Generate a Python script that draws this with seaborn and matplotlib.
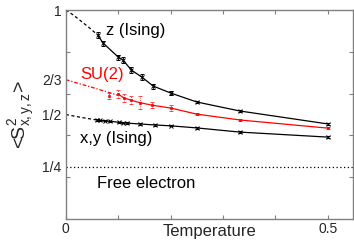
import numpy as np
import pandas as pd
import matplotlib
matplotlib.use('Agg')
import matplotlib.pyplot as plt
import seaborn as sns

# z (Ising)
z_T = [0.061, 0.071, 0.1, 0.109, 0.125, 0.145, 0.167, 0.2, 0.25, 0.332, 0.5]
z_S = [0.88, 0.842, 0.775, 0.761, 0.713, 0.679, 0.636, 0.603, 0.56, 0.517, 0.455]
z_err = [0.015, 0.012, 0.012, 0.015, 0.015, 0.015, 0.012, 0.008, 0.006, 0.005, 0.004]
z_fit_T = [0.0, 0.015, 0.03, 0.045, 0.061]
z_fit_S = [1.0, 0.975, 0.945, 0.915, 0.88]

# SU(2)
su_T = [0.082, 0.1, 0.111, 0.124, 0.141, 0.164, 0.2, 0.25, 0.332, 0.5]
su_S = [0.589, 0.598, 0.579, 0.569, 0.557, 0.545, 0.531, 0.502, 0.474, 0.435]
su_err = [0.015, 0.02, 0.02, 0.02, 0.03, 0.015, 0.015, 0.006, 0.006, 0.005]
su_fit_T = [0.0, 0.05, 0.1]
su_fit_S = [2 / 3, 0.63, 0.592]

# x,y (Ising)
xy_T = [0.059, 0.065, 0.074, 0.084, 0.101, 0.109, 0.116, 0.141, 0.17, 0.2, 0.25, 0.332, 0.5]
xy_S = [0.474, 0.472, 0.47, 0.468, 0.463, 0.461, 0.459, 0.455, 0.45, 0.446, 0.436, 0.416, 0.392]
xy_fit_T = [0.0, 0.03, 0.059]
xy_fit_S = [0.5, 0.486, 0.474]

free_S = 0.25

ytick_vals = [0.25, 0.5, 2 / 3, 1.0]
ytick_labels = ['1/4', '1/2', '2/3', '1']

sns.set_style("ticks")
plt.rcParams['font.family'] = ['Liberation Sans', 'DejaVu Sans']
plt.rcParams['mathtext.fontset'] = 'custom'
plt.rcParams['mathtext.rm'] = 'Liberation Sans'
plt.rcParams['mathtext.it'] = 'Liberation Sans'

fig = plt.figure(figsize=(3.54, 2.45), dpi=100)
ax = fig.add_axes([0.186, 0.106, 0.811, 0.853])

lw = 0.9
# extrapolations
sns.lineplot(x=z_fit_T, y=z_fit_S, ax=ax, color='black', lw=lw, linestyle=(0, (2.5, 2)), sort=False)
sns.lineplot(x=su_fit_T, y=su_fit_S, ax=ax, color='red', lw=lw, linestyle=(0, (3, 1.5, 1, 1.5)), sort=False)
sns.lineplot(x=xy_fit_T, y=xy_fit_S, ax=ax, color='black', lw=lw, linestyle=(0, (2.5, 2)), sort=False)

# data lines
sns.lineplot(x=z_T, y=z_S, ax=ax, color='black', lw=lw, sort=False)
sns.lineplot(x=su_T[1:], y=su_S[1:], ax=ax, color='red', lw=lw, sort=False)
sns.lineplot(x=xy_T, y=xy_S, ax=ax, color='black', lw=lw, sort=False)

ax.errorbar(z_T, z_S, yerr=z_err, fmt='x', color='black', ms=2.5, mew=0.7,
            elinewidth=0.6, capsize=1.5, capthick=0.6)
eb = ax.errorbar(su_T, su_S, yerr=su_err, fmt='s', color='red', ms=2, mew=0.5,
                 elinewidth=0.6, capsize=1.5, capthick=0.6)
eb[-1][0].set_linestyle(':')
ax.errorbar(xy_T, xy_S, yerr=[0.003] * len(xy_T), fmt='x', color='black', ms=2.5, mew=0.7,
            elinewidth=0.6, capsize=1.5, capthick=0.6)

ax.axhline(free_S, color='black', lw=0.9, linestyle=(0, (1, 2)))

ax.text(0.077, 0.9, 'z (Ising)', fontsize=12, color='black', va='center')
ax.text(0.027, 0.69, 'SU(2)', fontsize=12, color='red', va='center')
ax.text(0.027, 0.385, 'x,y (Ising)', fontsize=12, color='black', va='center')
ax.text(0.06, 0.17, 'Free electron', fontsize=12, color='black', va='center')

ax.set_xlim(0, 0.548)
ax.set_ylim(0, 1)
ax.set_xticks([0, 0.1, 0.2, 0.3, 0.4, 0.5], labels=['0', '', '', '', '', '0.5'])
ax.set_yticks([0.2, 0.4, 0.6, 0.8], labels=['', '', '', ''])
ax.set_yticks(ytick_vals, labels=ytick_labels, minor=True)
ax.tick_params(which='major', direction='in', length=3, color='gray', width=0.8,
               top=True, right=True, labelsize=10, pad=4)
ax.tick_params(axis='x', which='major', pad=2)
ax.tick_params(which='minor', length=0, labelsize=10, pad=3)
for s in ax.spines.values():
    s.set_color('gray')
    s.set_linewidth(1.0)

ax.set_xlabel('Temperature', fontsize=12)
ax.xaxis.set_label_coords(0.5, -0.025)
ax.set_ylabel(r'<S$^{2}_{x,y,z}$>', fontsize=14)
ax.yaxis.set_label_coords(-0.10, 0.5)

plt.savefig('out.png', dpi=100)
plt.close()
